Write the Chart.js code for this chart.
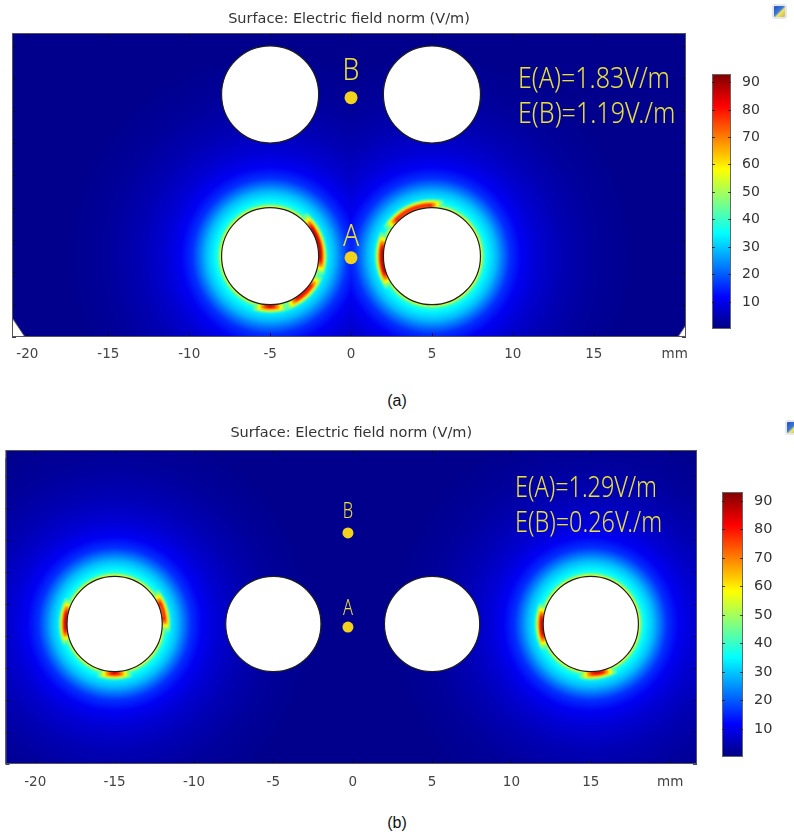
<!DOCTYPE html>
<html>
<head>
<meta charset="utf-8">
<script src="https://cdn.jsdelivr.net/npm/chart.js@4.4.1/dist/chart.umd.min.js"></script>
<style>
  body { margin: 0; background: #fff; width: 794px; height: 836px; position: relative; overflow: hidden; }
  .wrap { position: absolute; left: 0; width: 794px; }
  .cap { position: absolute; left: 0; width: 794px; text-align: center; font: 16px 'Liberation Sans', Arial, sans-serif; line-height: 20px; color: #111; }
  .icon { position: absolute; width: 11px; height: 11px; border-radius: 3px; border: 2px solid #e4e8ee;
          background: linear-gradient(135deg, #2550c0 0%, #3a78d8 45%, #f2e36a 60%, #c9b640 100%); }
</style>
</head>
<body>
<div class="wrap" style="top:0"><canvas id="chartA" width="794" height="385"></canvas></div>
<div class="cap" style="top:391px">(a)</div>
<div class="wrap" style="top:415px"><canvas id="chartB" width="794" height="395"></canvas></div>
<div class="cap" style="top:813px">(b)</div>
<div class="icon" style="left:772px;top:4px"></div>
<div class="icon" style="left:785px;top:420px"></div>
<script>
const cbarMax = 93;
const cbarTicks = [10, 20, 30, 40, 50, 60, 70, 80, 90];
const xTickVals = [-20, -15, -10, -5, 0, 5, 10, 15, 20];
const xTickText = ['-20', '-15', '-10', '-5', '0', '5', '10', '15', 'mm'];
const bgField = 1.2;

// field norm (V/m) against distance from a driven electrode surface (mm)
const haloDist  = [0, 0.08, 0.16, 0.26, 0.45, 0.75, 1.0, 1.25, 1.8, 2.5, 3.5, 5, 7, 9.5];
const haloField = [58, 52, 44, 38, 34, 31, 28, 24, 16, 10.5, 7.5, 4.8, 2.6, 1.2];
const haloCore = 0.26;   // inside this the colours leave the blue-cyan range

// (a) two pairs of electrodes, lower pair driven
const holeAX = [-5, 5, -5, 5];
const holeAY = [15, 15, 5, 5];
const holeAR = [3, 3, 3, 3];
const driveA = [false, false, true, true];
const probeAName = ['A', 'B'];
const probeAX = [0, 0];
const probeAY = [4.9, 14.8];
const probeAE = [1.83, 1.19];
// hot spots on the driven rims: hole index, from / to angle (deg), peak V/m
const hotA = [[2, -50, 20, 90], [2, 22, 72, 80], [2, 72, 108, 88], [3, 145, 205, 90], [3, 212, 282, 74]];
// unmeshed corners of the domain (mm)
const cornerAX = [[-20.95, -20.95, -20.15], [20.7, 20.7, 20.2]];
const cornerAY = [[0, 1.2, 0], [0, 0.75, 0]];

// (b) one row of four electrodes, outer two driven
const holeBX = [-15, -5, 5, 15];
const holeBY = [8.75, 8.75, 8.75, 8.75];
const holeBR = [3, 3, 3, 3];
const driveB = [true, false, false, true];
const probeBName = ['A', 'B'];
const probeBX = [-0.3, -0.3];
const probeBY = [8.56, 14.44];
const probeBE = [1.29, 0.26];
const hotB = [[0, 158, 208, 88], [0, 72, 108, 86], [0, -38, 8, 72], [3, 152, 202, 88], [3, 62, 102, 85]];

function jet(v) {
  const t = Math.max(0, Math.min(1, v / cbarMax));
  const c = u => Math.round(255 * Math.max(0, Math.min(1, u)));
  return [c(1.5 - Math.abs(4 * t - 3)), c(1.5 - Math.abs(4 * t - 2)), c(1.5 - Math.abs(4 * t - 1))];
}
const rgba = (v, a = 1) => { const [r, g, b] = jet(v); return `rgba(${r},${g},${b},${a})`; };
const mmPx = (chart, mm) => Math.abs(chart.scales.x.getPixelForValue(mm) - chart.scales.x.getPixelForValue(0));

function haloGradient(ctx, cx, cy, r, k) {
  const span = haloDist[haloDist.length - 1] * k;
  const g = ctx.createRadialGradient(cx, cy, r, cx, cy, r + span);
  haloDist.forEach((d, i) => g.addColorStop(d * k / span, rgba(haloField[i])));
  return g;
}

function fieldPlugin(d) {
  return {
    id: 'field',
    beforeDatasetsDraw(chart) {
      const { ctx, chartArea: ca, scales: { x, y } } = chart;
      const k = mmPx(chart, 1);
      ctx.save();
      ctx.beginPath();
      ctx.rect(ca.left, ca.top, ca.right - ca.left, ca.bottom - ca.top);
      ctx.clip();
      ctx.fillStyle = rgba(bgField);
      ctx.fillRect(ca.left, ca.top, ca.right - ca.left, ca.bottom - ca.top);
      // blue-cyan part combined with 'lighten' (the larger field wins), core painted over it
      [[haloDist[haloDist.length - 1], 'lighten'], [haloCore, 'source-over']].forEach(([reach, op]) => {
        ctx.globalCompositeOperation = op;
        d.holeX.forEach((hx, i) => {
          if (!d.drive[i]) return;
          const cx = x.getPixelForValue(hx), cy = y.getPixelForValue(d.holeY[i]);
          const r = d.holeR[i] * k;
          ctx.fillStyle = haloGradient(ctx, cx, cy, r, k);
          ctx.beginPath();
          ctx.arc(cx, cy, r + reach * k, 0, Math.PI * 2);
          ctx.fill();
        });
      });
      ctx.globalCompositeOperation = 'source-over';
      ctx.save();
      ctx.filter = 'blur(1px)';
      d.hot.forEach(([i, a0, a1, peak]) => {
        const cx = x.getPixelForValue(d.holeX[i]), cy = y.getPixelForValue(d.holeY[i]);
        const r = d.holeR[i] * k;
        [[45, 0.5, 0], [58, 0.4, 4], [70, 0.3, 8], [80, 0.22, 12], [peak, 0.14, 16]].forEach(([v, w, s]) => {
          const lo = a0 + s, hi = a1 - s;
          if (hi <= lo) return;
          ctx.strokeStyle = rgba(v);
          ctx.lineWidth = w * k;
          ctx.beginPath();
          ctx.arc(cx, cy, r + w * k / 2, lo * Math.PI / 180, hi * Math.PI / 180);
          ctx.stroke();
        });
      });
      ctx.restore();
      (d.cornerX || []).forEach((xs, j) => {
        ctx.beginPath();
        xs.forEach((cx, m) => ctx.lineTo(x.getPixelForValue(cx), y.getPixelForValue(d.cornerY[j][m])));
        ctx.closePath();
        ctx.fillStyle = '#fff';
        ctx.fill();
        ctx.strokeStyle = '#666';
        ctx.lineWidth = 1;
        ctx.stroke();
      });
      ctx.restore();
    },
    afterDatasetsDraw(chart) {
      const { ctx, chartArea: ca, scales: { x, y } } = chart;
      const L = d.look;
      ctx.save();
      // frame and edge ticks
      ctx.strokeStyle = 'rgba(0,0,50,0.75)';
      ctx.lineWidth = 1;
      ctx.beginPath();
      xTickVals.forEach(v => {
        const px = Math.round(x.getPixelForValue(v)) + 0.5;
        ctx.moveTo(px, ca.top); ctx.lineTo(px, ca.top + 4);
        ctx.moveTo(px, ca.bottom); ctx.lineTo(px, ca.bottom - 4);
      });
      for (let v = 0; v <= y.max; v += 2) {
        const py = Math.round(y.getPixelForValue(v)) + 0.5;
        ctx.moveTo(ca.left, py); ctx.lineTo(ca.left + 4, py);
        ctx.moveTo(ca.right, py); ctx.lineTo(ca.right - 4, py);
      }
      ctx.stroke();
      ctx.strokeStyle = '#555';
      ctx.strokeRect(ca.left + 0.5, ca.top + 0.5, ca.right - ca.left - 1, ca.bottom - ca.top - 1);

      // probe labels and readouts
      ctx.fillStyle = '#e8e03a';
      const face = size => `300 ${size}px 'Noto Sans'`;
      ctx.font = face(L.textSize);
      const line1 = `E(${d.probeName[0]})=${d.probeE[0].toFixed(2)}V/m`;
      const line2 = `E(${d.probeName[1]})=${d.probeE[1].toFixed(2)}V./m`;
      const sx = L.textWidth / ctx.measureText(line1).width;
      const put = (str, px, py, size, align) => {
        ctx.save();
        ctx.font = face(size);
        ctx.textAlign = align;
        ctx.textBaseline = 'alphabetic';
        ctx.translate(px, py + size * 0.357);
        ctx.scale(sx, 1);
        ctx.fillText(str, 0, 0);
        ctx.restore();
      };
      put(line1, L.textX, L.textY[0], L.textSize, 'left');
      put(line2, L.textX, L.textY[1], L.textSize, 'left');
      d.probeName.forEach((n, i) => {
        put(n, x.getPixelForValue(d.probeX[i]), y.getPixelForValue(d.probeY[i]) + L.labelDy[i], L.labelSize, 'center');
      });

      // colour legend
      const bx = ca.right + L.bar.dx, bw = L.bar.w, bt = L.bar.top, bb = L.bar.bottom;
      const grad = ctx.createLinearGradient(0, bb, 0, bt);
      for (let s = 0; s <= 16; s++) grad.addColorStop(s / 16, rgba(cbarMax * s / 16));
      ctx.fillStyle = grad;
      ctx.fillRect(bx, bt, bw, bb - bt);
      ctx.strokeStyle = '#666';
      ctx.strokeRect(bx + 0.5, bt + 0.5, bw - 1, bb - bt - 1);
      ctx.fillStyle = '#333';
      ctx.font = `${L.bar.font}px 'DejaVu Sans'`;
      ctx.textAlign = 'left';
      ctx.textBaseline = 'middle';
      ctx.strokeStyle = 'rgba(30,30,30,0.8)';
      cbarTicks.forEach(v => {
        const py = Math.round(bb - v / cbarMax * (bb - bt)) + 0.5;
        ctx.beginPath();
        ctx.moveTo(bx, py); ctx.lineTo(bx + 3, py);
        ctx.moveTo(bx + bw, py); ctx.lineTo(bx + bw - 3, py);
        ctx.stroke();
        ctx.fillText(String(v), bx + bw + 11, py);
      });
      ctx.restore();
    }
  };
}

function fieldChart(id, d) {
  const holes = d.holeX.map((hx, i) => ({ x: hx, y: d.holeY[i] }));
  const probes = d.probeX.map((px, i) => ({ x: px, y: d.probeY[i] }));
  return new Chart(document.getElementById(id), {
    type: 'scatter',
    data: {
      datasets: [
        { data: probes, pointRadius: d.look.dot, pointBackgroundColor: '#f1d21c', pointBorderWidth: 0 },
        {
          data: holes, pointBackgroundColor: '#fff', pointBorderColor: '#1e1e1e', pointBorderWidth: 1.2,
          pointRadius: c => (c.chart.chartArea ? mmPx(c.chart, d.holeR[c.dataIndex]) : 0)
        }
      ]
    },
    options: {
      responsive: false,
      animation: false,
      events: [],
      layout: { padding: d.look.pad },
      scales: {
        x: {
          type: 'linear', min: d.xMin, max: d.xMax,
          afterBuildTicks: s => { s.ticks = xTickVals.map(v => ({ value: v })); },
          afterFit: s => { s.height = 30; },
          grid: { display: false, drawTicks: false },
          border: { display: false },
          ticks: {
            padding: d.look.tickPad, color: '#444', maxRotation: 0, autoSkip: false,
            font: { family: 'DejaVu Sans', size: 13.5 },
            callback: (v, i) => xTickText[i]
          }
        },
        y: { type: 'linear', min: 0, max: d.yMax, display: false }
      },
      plugins: {
        legend: { display: false },
        tooltip: { enabled: false },
        title: {
          display: true, text: 'Surface: Electric field norm (V/m)', fullSize: false, color: '#333',
          font: { family: 'DejaVu Sans', size: 14.5, weight: 'normal' }, padding: d.look.titlePad
        }
      }
    },
    plugins: [fieldPlugin(d)]
  });
}

fieldChart('chartA', {
  xMin: -20.95, xMax: 20.7, yMax: 18.8,
  holeX: holeAX, holeY: holeAY, holeR: holeAR, drive: driveA, hot: hotA,
  cornerX: cornerAX, cornerY: cornerAY,
  probeName: probeAName, probeX: probeAX, probeY: probeAY, probeE: probeAE,
  look: {
    pad: { left: 12, right: 108, top: 0, bottom: 18 }, titlePad: { top: 10.3, bottom: 5.3 }, tickPad: 9,
    dot: 6.5, textSize: 30, textWidth: 152, textX: 518, textY: [77, 112], labelSize: 32, labelDy: [-23, -29.5],
    bar: { dx: 26, w: 19, top: 74, bottom: 329, font: 14 }
  }
});

fieldChart('chartB', {
  xMin: -21.875, xMax: 21.69, yMax: 19.625,
  holeX: holeBX, holeY: holeBY, holeR: holeBR, drive: driveB, hot: hotB,
  probeName: probeBName, probeX: probeBX, probeY: probeBY, probeE: probeBE,
  look: {
    pad: { left: 0, right: 97, top: 0, bottom: 16 }, titlePad: { top: 9.3, bottom: 8.3 }, tickPad: 10.4,
    dot: 5.5, textSize: 30, textWidth: 142, textX: 515, textY: [71, 106], labelSize: 21, labelDy: [-20, -22],
    bar: { dx: 25, w: 21, top: 77, bottom: 342, font: 14.5 }
  }
});
</script>
</body>
</html>
